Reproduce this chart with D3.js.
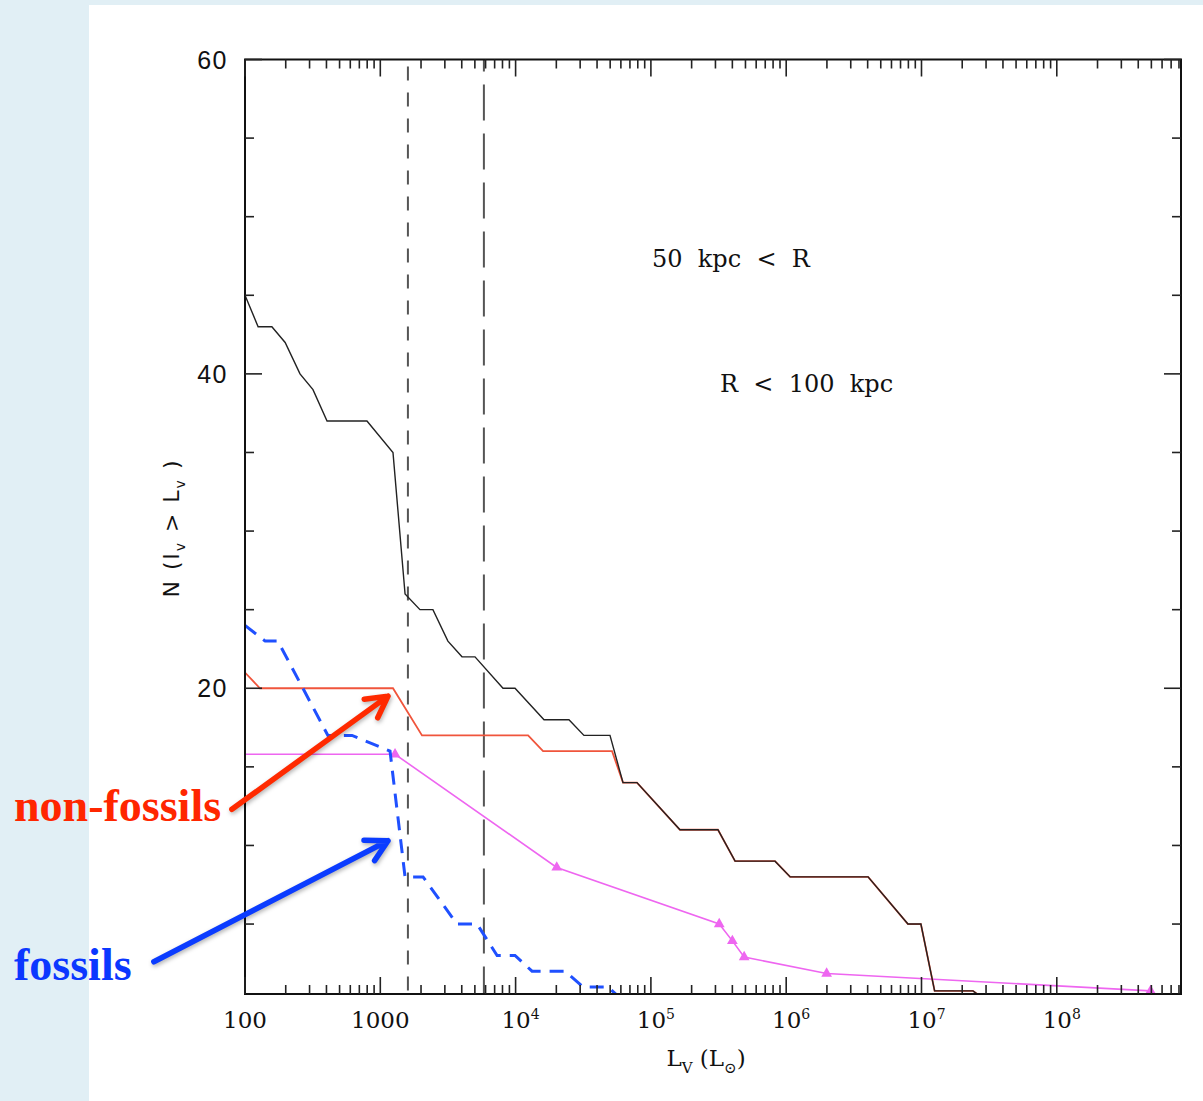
<!DOCTYPE html>
<html>
<head>
<meta charset="utf-8">
<script src="https://cdn.jsdelivr.net/npm/d3@7"></script>
<style>
  body { margin: 0; padding: 0; background: #e1eff5; }
  svg { display: block; }
</style>
</head>
<body>
<div id="chart"></div>
<script>
// Data (L_V in solar luminosities, N = count brighter than L_V)
// total satellites (black)
let totalL = [100, 125, 158, 198, 255, 318, 404, 797, 1241, 1524, 1964, 2449, 3160, 4016, 5012, 8070, 9904,
  16220, 24800, 32000, 49850, 62200, 78900, 1.64e5, 3.13e5, 4.19e5, 8.27e5, 1.07e6, 4.03e6, 7.94e6, 9.9e6,
  1.25e7, 2.4e7, 3.15e7];
let totalN = [45, 43, 43, 42, 40, 39, 37, 37, 35, 26, 25, 25, 23, 22, 22, 20, 20,
  18, 18, 17, 17, 14, 14, 11, 11, 9, 9, 8, 8, 5, 5,
  0.75, 0.75, 0];

// non-fossils (red)
let nonFossilL = [100, 129, 1241, 2033, 12370, 15960, 51640, 62200, 78900, 1.64e5, 3.13e5, 4.19e5, 8.27e5,
  1.07e6, 4.03e6, 7.94e6, 9.9e6, 1.25e7, 2.4e7, 3.15e7];
let nonFossilN = [21, 20, 20, 17, 17, 16, 16, 14, 14, 11, 11, 9, 9,
  8, 8, 5, 5, 0.75, 0.75, 0];

// fossils (blue dashed)
let fossilL = [100, 141, 175, 410, 618, 1180, 1524, 2070, 3690, 5190, 7300, 9900, 13230, 23170, 31480, 48200, 64400];
let fossilN = [24, 23, 23, 17, 17, 16, 8, 8, 5, 5, 3, 3, 2, 2, 1, 1, 0];

// model curve with triangle markers (magenta)
let modelL = [100, 1285, 20140, 3.2e5, 4.0e5, 4.89e5, 1.99e6, 4.93e8];
let modelN = [15.8, 15.8, 8.6, 5.0, 3.93, 2.9, 1.85, 0.75];
let modelMarked = [false, true, true, true, true, true, true, true];

// vertical reference lines
let refShortL = 1600;
let refLongL = 5830;

// axis ticks and labels
let xMajor = [100, 1000, 1e4, 1e5, 1e6, 1e7, 1e8];
let xMajorLabels = [["100", ""], ["1000", ""], ["10", "4"], ["10", "5"], ["10", "6"], ["10", "7"], ["10", "8"]];
let yMajor = [20, 40, 60];
let yMinor = [5, 10, 15, 25, 30, 35, 45, 50, 55];

// annotation arrows in data coordinates [L, N]
let redArrow = [[80, 12.3], [1140, 19.5]];
let blueArrow = [[21.2, 2.6], [1140, 10.3]];

// SVG dimensions
let svgWidth = 1203;
let svgHeight = 1101;

// plot box (pixel edges of the frame)
let plot = { left: 245, right: 1181, top: 59.5, bottom: 994 };

let svg = d3.select("#chart")
  .append("svg")
  .attr("width", svgWidth)
  .attr("height", svgHeight);

// slide background and white panel
svg.append("rect")
  .attr("width", svgWidth)
  .attr("height", svgHeight)
  .attr("fill", "#e1eff5");
svg.append("rect")
  .attr("x", 89)
  .attr("y", 5)
  .attr("width", svgWidth - 89)
  .attr("height", svgHeight - 5)
  .attr("fill", "#ffffff");

// scales
let xScale = d3.scaleLog()
  .domain([100, 8.28e8])
  .range([plot.left, plot.right]);
let yScale = d3.scaleLinear()
  .domain([0.55, 60])
  .range([plot.bottom, plot.top]);

// clip to the frame
svg.append("clipPath")
  .attr("id", "plotClip")
  .append("rect")
  .attr("x", plot.left)
  .attr("y", plot.top)
  .attr("width", plot.right - plot.left)
  .attr("height", plot.bottom - plot.top);

let chartGroup = svg.append("g").attr("clip-path", "url(#plotClip)");

// vertical dashed reference lines
chartGroup.append("line")
  .attr("x1", xScale(refShortL)).attr("x2", xScale(refShortL))
  .attr("y1", plot.top).attr("y2", plot.bottom)
  .attr("stroke", "#555")
  .attr("stroke-width", 2)
  .attr("stroke-dasharray", "14,12")
  .attr("stroke-dashoffset", 19);
chartGroup.append("line")
  .attr("x1", xScale(refLongL)).attr("x2", xScale(refLongL))
  .attr("y1", plot.top).attr("y2", plot.bottom)
  .attr("stroke", "#555")
  .attr("stroke-width", 2)
  .attr("stroke-dasharray", "36,13")
  .attr("stroke-dashoffset", 24);

let line = d3.line()
  .x((d) => xScale(d[0]))
  .y((d) => yScale(d[1]));

// model curve
let modelData = d3.zip(modelL, modelN);
chartGroup.append("path")
  .datum(modelData)
  .attr("d", line)
  .attr("fill", "none")
  .attr("stroke", "#ee66f0")
  .attr("stroke-width", 1.6);

chartGroup.selectAll(".marker")
  .data(modelData.filter((d, i) => modelMarked[i]))
  .enter()
  .append("path")
  .classed("marker", true)
  .attr("d", d3.symbol().type(d3.symbolTriangle).size(50))
  .attr("transform", (d) => `translate(${xScale(d[0])}, ${yScale(d[1])})`)
  .attr("fill", "#ee66f0");

// non-fossils
chartGroup.append("path")
  .datum(d3.zip(nonFossilL, nonFossilN))
  .attr("d", line)
  .attr("fill", "none")
  .attr("stroke", "#f0553c")
  .attr("stroke-width", 1.8);

// total
chartGroup.append("path")
  .datum(d3.zip(totalL, totalN))
  .attr("d", line)
  .attr("fill", "none")
  .attr("stroke", "#222")
  .attr("stroke-width", 1.4);

// fossils
chartGroup.append("path")
  .datum(d3.zip(fossilL, fossilN))
  .attr("d", line)
  .attr("fill", "none")
  .attr("stroke", "#1f50ff")
  .attr("stroke-width", 3)
  .attr("stroke-dasharray", "14,9");

// frame
svg.append("rect")
  .attr("x", plot.left)
  .attr("y", plot.top)
  .attr("width", plot.right - plot.left)
  .attr("height", plot.bottom - plot.top)
  .attr("fill", "none")
  .attr("stroke", "#111")
  .attr("stroke-width", 2);

// x ticks (inside, top and bottom)
let xMinor = [];
for (let e = 2; e <= 8; e++) {
  for (let m = 2; m <= 9; m++) {
    let v = m * Math.pow(10, e);
    if (v < xScale.domain()[1]) xMinor.push(v);
  }
}
let tickGroup = svg.append("g").attr("stroke", "#222").attr("stroke-width", 1.6);

[[xMajor, 17], [xMinor, 9]].forEach(function ([vals, len]) {
  vals.forEach(function (v) {
    let x = xScale(v);
    tickGroup.append("line").attr("x1", x).attr("x2", x).attr("y1", plot.bottom).attr("y2", plot.bottom - len);
    tickGroup.append("line").attr("x1", x).attr("x2", x).attr("y1", plot.top).attr("y2", plot.top + len);
  });
});

// y ticks (inside, left and right)
[[yMajor, 17], [yMinor, 9]].forEach(function ([vals, len]) {
  vals.forEach(function (v) {
    let y = yScale(v);
    tickGroup.append("line").attr("x1", plot.left).attr("x2", plot.left + len).attr("y1", y).attr("y2", y);
    tickGroup.append("line").attr("x1", plot.right).attr("x2", plot.right - len).attr("y1", y).attr("y2", y);
  });
});

// x tick labels
let xLabels = svg.selectAll(".xLabel")
  .data(d3.zip(xMajor, xMajorLabels))
  .enter()
  .append("text")
  .classed("xLabel", true)
  .attr("x", (d) => xScale(d[0]) + (d[1][1] ? 5 : 0))
  .attr("y", 1028)
  .attr("text-anchor", "middle")
  .attr("font-family", "DejaVu Serif, serif")
  .attr("font-size", "23px")
  .attr("fill", "#111");
xLabels.append("tspan").text((d) => d[1][0]);
xLabels.append("tspan")
  .attr("dy", -9)
  .attr("font-size", "14px")
  .text((d) => d[1][1]);

// y tick labels
svg.selectAll(".yLabel")
  .data(yMajor)
  .enter()
  .append("text")
  .classed("yLabel", true)
  .attr("x", 228)
  .attr("y", (d) => yScale(d) + 9)
  .attr("text-anchor", "end")
  .attr("font-family", "Liberation Sans, Arial, sans-serif")
  .attr("font-size", "25px")
  .attr("letter-spacing", "1.5px")
  .attr("fill", "#111")
  .text((d) => d);

// x-axis title
let xTitle = svg.append("text")
  .attr("x", 706)
  .attr("y", 1066)
  .attr("text-anchor", "middle")
  .attr("font-family", "DejaVu Serif, serif")
  .attr("font-size", "23px")
  .attr("fill", "#111");
xTitle.append("tspan").text("L");
xTitle.append("tspan").attr("dy", 7).attr("font-size", "15px").text("V");
xTitle.append("tspan").attr("dy", -7).text(" (L");
xTitle.append("tspan").attr("dy", 7).attr("font-size", "15px").text("⊙");
xTitle.append("tspan").attr("dy", -7).text(")");

// y-axis title
let yTitle = svg.append("text")
  .attr("transform", "translate(179, 528) rotate(-90)")
  .attr("text-anchor", "middle")
  .attr("font-family", "DejaVu Sans, sans-serif")
  .attr("font-size", "22px")
  .attr("letter-spacing", "2px")
  .attr("fill", "#111");
yTitle.append("tspan").text("N (l");
yTitle.append("tspan").attr("dy", 6).attr("font-size", "14px").text("v");
yTitle.append("tspan").attr("dy", -6).text(" > L");
yTitle.append("tspan").attr("dy", 6).attr("font-size", "14px").text("v");
yTitle.append("tspan").attr("dy", -6).text(" )");

// radius range notes
svg.append("text")
  .attr("x", 652)
  .attr("y", 267)
  .attr("font-family", "DejaVu Serif, serif")
  .attr("font-size", "24px")
  .attr("fill", "#111")
  .attr("xml:space", "preserve")
  .text("50  kpc  <  R");
svg.append("text")
  .attr("x", 720)
  .attr("y", 392)
  .attr("font-family", "DejaVu Serif, serif")
  .attr("font-size", "24px")
  .attr("fill", "#111")
  .attr("xml:space", "preserve")
  .text("R  <  100  kpc");

// annotation arrows
function drawArrow(pts, color) {
  let p0 = [xScale(pts[0][0]), yScale(pts[0][1])];
  let p1 = [xScale(pts[1][0]), yScale(pts[1][1])];
  let ang = Math.atan2(p1[1] - p0[1], p1[0] - p0[0]);
  let headLen = 24;
  let spread = 0.5;
  let g = svg.append("g")
    .attr("stroke", color)
    .attr("stroke-width", 5.5)
    .attr("stroke-linecap", "round")
    .attr("stroke-linejoin", "round")
    .attr("fill", "none")
    .style("filter", "drop-shadow(1px 2px 2px rgba(0,0,0,0.3))");
  g.append("path")
    .attr("d", `M${p0[0]},${p0[1]} L${p1[0]},${p1[1]}` +
      ` M${p1[0] - headLen * Math.cos(ang - spread)},${p1[1] - headLen * Math.sin(ang - spread)}` +
      ` L${p1[0]},${p1[1]}` +
      ` L${p1[0] - headLen * Math.cos(ang + spread)},${p1[1] - headLen * Math.sin(ang + spread)}`);
}
drawArrow(redArrow, "#ff2a00");
drawArrow(blueArrow, "#0b3cff");

// annotation labels
svg.append("text")
  .attr("x", 14)
  .attr("y", 821)
  .attr("font-family", "Liberation Serif, Times New Roman, serif")
  .attr("font-weight", "bold")
  .attr("font-size", "46px")
  .attr("fill", "#ff2600")
  .text("non-fossils");
svg.append("text")
  .attr("x", 14)
  .attr("y", 980)
  .attr("font-family", "Liberation Serif, Times New Roman, serif")
  .attr("font-weight", "bold")
  .attr("font-size", "46px")
  .attr("fill", "#0b37ff")
  .text("fossils");
</script>
</body>
</html>
